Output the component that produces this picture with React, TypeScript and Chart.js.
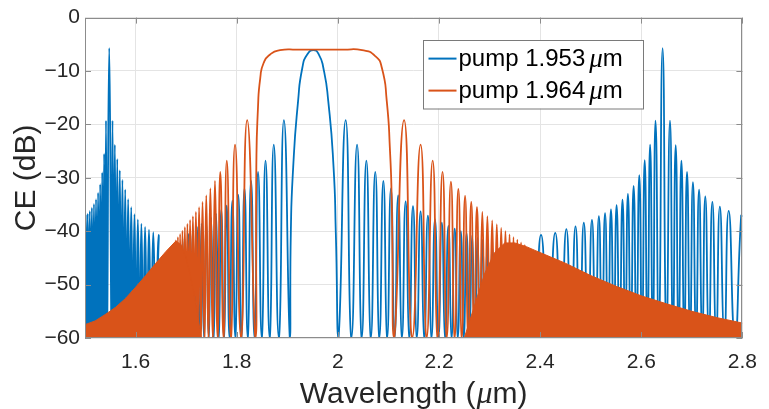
import React, { useEffect, useRef } from "react";
import { Chart, registerables } from "chart.js";
Chart.register(...registerables);

type Pt = [number, number];

const SERIES_NAMES = ["pump 1.953μm", "pump 1.964μm"];
const SERIES_COLORS = ["#0072BD", "#D95319"];
const X_TITLE = "Wavelength (μm)";
const Y_TITLE = "CE (dB)";
const X_TICKS = [1.6, 1.8, 2.0, 2.2, 2.4, 2.6, 2.8];
const X_TICK_LABELS = ["1.6", "1.8", "2", "2.2", "2.4", "2.6", "2.8"];
const Y_TICKS = [0, -10, -20, -30, -40, -50, -60];
const Y_TICK_LABELS = ["0", "\u221210", "\u221220", "\u221230", "\u221240", "\u221250", "\u221260"];

// pump 1.953 µm : idler lobes near 1.55 µm (peak, null, peak ...)
const blueIdler: Pt[] = [
  [1.5, -38], [1.5013, -37.2], [1.5034, -60], [1.5054, -36.7], [1.5075, -60], [1.5095, -36.2], [1.5116, -60],
  [1.5136, -35.6], [1.5157, -60], [1.5177, -34.9], [1.5198, -60], [1.5218, -34.0], [1.5239, -60], [1.5259, -32.8],
  [1.528, -60], [1.53, -31.2], [1.532, -60], [1.534, -29.0], [1.5359, -60], [1.5378, -25.5], [1.5397, -60],
  [1.5415, -19.3], [1.5435, -60], [1.5479, -5.7], [1.5525, -60], [1.5544, -19.3], [1.5567, -60], [1.559, -23.8],
  [1.5614, -60], [1.5638, -26.5], [1.5663, -60], [1.5688, -28.6], [1.5714, -60], [1.574, -30.4], [1.5767, -60],
  [1.5795, -32.2], [1.5824, -60], [1.5853, -34.0], [1.5883, -60], [1.5914, -35.5], [1.5946, -60], [1.5978, -36.8],
  [1.6011, -60], [1.6045, -37.8], [1.608, -60], [1.6115, -38.6], [1.6151, -60], [1.6188, -39.2], [1.6226, -60],
  [1.6265, -39.7], [1.6307, -60], [1.635, -40.2], [1.6401, -60], [1.6453, -40.7], [1.651, -60],
];

// pump 1.953 µm : central lobes around the pump
const blueCenter: Pt[] = [
  [1.671, -60], [1.6745, -45], [1.6781, -60], [1.6817, -43.5], [1.6854, -60], [1.6891, -42.3], [1.693, -60],
  [1.6968, -41.3], [1.7008, -60], [1.7048, -40.5], [1.709, -60], [1.7131, -39.8], [1.7174, -60], [1.7217, -39.2],
  [1.7262, -60], [1.7306, -38.6], [1.7352, -60], [1.7398, -38.0], [1.7446, -60], [1.7493, -37.4], [1.7543, -60],
  [1.7592, -36.7], [1.7644, -60], [1.7695, -36.0], [1.7749, -60], [1.7802, -35.2], [1.7858, -60], [1.7914, -34.3],
  [1.7973, -60], [1.8031, -33.2], [1.8093, -60], [1.8154, -32.0], [1.8219, -60], [1.8284, -30.6], [1.8353, -60],
  [1.8422, -28.9], [1.8496, -60], [1.857, -26.8], [1.8652, -60], [1.8733, -23.8], [1.8833, -60], [1.8933, -19.2],
  [1.905, -60], [1.907, -40.4], [1.9117, -28], [1.9214, -15.6], [1.9298, -9.4], [1.9395, -6.9], [1.952, -6.1],
  [1.9623, -6.9], [1.9713, -9.4], [1.981, -15.6], [1.9915, -28], [1.996, -40.4], [2.0013, -60],
  [2.0155, -19.2], [2.0268, -60], [2.038, -23.8], [2.0472, -60], [2.0564, -26.8], [2.0652, -60], [2.074, -28.9],
  [2.082, -60], [2.09, -30.6], [2.0975, -60], [2.105, -32.0], [2.1122, -60], [2.1193, -33.3], [2.1267, -60],
  [2.134, -34.4], [2.1413, -60], [2.1486, -35.3], [2.1561, -60], [2.1636, -36.3], [2.1709, -60], [2.1781, -37.1],
  [2.1851, -60], [2.1921, -37.8], [2.1989, -60], [2.2056, -38.4], [2.2121, -60], [2.2186, -39.0], [2.2249, -60],
  [2.2311, -39.5], [2.2371, -60], [2.2431, -40.0], [2.2489, -60], [2.2546, -40.4], [2.2601, -60], [2.2656, -40.8],
  [2.2709, -60], [2.2761, -41.2], [2.2811, -60], [2.2861, -41.6], [2.291, -60], [2.2958, -42.0], [2.3005, -60],
  [2.3052, -42.5], [2.3098, -60], [2.3143, -43.5], [2.3187, -60], [2.3231, -44.5], [2.3274, -60], [2.3317, -46],
  [2.3358, -60], [2.34, -47.5], [2.344, -60], [2.348, -49], [2.352, -60], [2.356, -50.5], [2.361, -60],
  [2.367, -49], [2.373, -60], [2.38, -46], [2.39, -60],
];

// pump 1.953 µm : signal lobes near 2.64 µm
const blueSignal: Pt[] = [
  [2.4018, -40.7], [2.4159, -60], [2.4299, -40.3], [2.4409, -60], [2.4519, -39.6], [2.461, -60], [2.47, -39.1],
  [2.4782, -60], [2.4864, -38.4], [2.4945, -60], [2.5025, -37.9], [2.5094, -60], [2.5162, -37.2], [2.5223, -60],
  [2.5284, -36.6], [2.5343, -60], [2.5401, -35.9], [2.5457, -60], [2.5512, -35.1], [2.5571, -60], [2.5629, -34.1],
  [2.5683, -60], [2.5736, -33.0], [2.5793, -60], [2.5849, -31.5], [2.5905, -60], [2.5961, -29.5], [2.6015, -60],
  [2.6068, -26.7], [2.6122, -60], [2.6175, -23.8], [2.6229, -60], [2.6282, -19.3], [2.6347, -60], [2.6422, -5.7],
  [2.6497, -60], [2.6568, -19.3], [2.6625, -60], [2.6681, -23.9], [2.6738, -60], [2.6794, -26.8], [2.685, -60],
  [2.6905, -28.9], [2.6964, -60], [2.7022, -30.8], [2.7083, -60], [2.7143, -32.2], [2.7205, -60], [2.7266, -33.5],
  [2.7336, -60], [2.7406, -34.5], [2.748, -60], [2.7554, -35.4], [2.7642, -60], [2.7729, -36.2], [2.7852, -60],
  [2.7975, -37.1], [2.8, -37.3],
];

// pump 1.964 µm : resolved lobes and flat-top main lobe
const orangeLobes: Pt[] = [
  [1.6774, -60], [1.6795, -41.7], [1.6816, -60], [1.6837, -41.1], [1.6859, -60], [1.6881, -40.5], [1.6904, -60],
  [1.6927, -39.9], [1.6951, -60], [1.6975, -39.2], [1.70, -60], [1.7025, -38.6], [1.7052, -60], [1.7078, -37.9],
  [1.7106, -60], [1.7134, -37.2], [1.7164, -60], [1.7193, -36.4], [1.7225, -60], [1.7256, -35.5], [1.729, -60],
  [1.7324, -34.5], [1.7361, -60], [1.7398, -33.3], [1.7439, -60], [1.7479, -32.0], [1.7525, -60], [1.757, -30.6],
  [1.7623, -60], [1.7675, -28.9], [1.774, -60], [1.7804, -26.8], [1.7886, -60], [1.7967, -23.8], [1.8087, -60],
  [1.8207, -19.2], [1.837, -60],
  [1.8388, -28], [1.8421, -16.8], [1.8466, -11.3], [1.8532, -8.5], [1.866, -6.9], [1.8856, -6.1], [1.92, -6.0],
  [1.964, -6.0], [2.01, -6.0], [2.048, -6.1], [2.0739, -7.2], [2.087, -9.4], [2.0967, -15.6], [2.1031, -24.9],
  [2.1065, -34.2], [2.1115, -60],
  [2.131, -19.2], [2.147, -60], [2.1636, -23.8], [2.1755, -60], [2.1875, -26.8], [2.1972, -60], [2.207, -28.9],
  [2.2153, -60], [2.2236, -30.7], [2.231, -60], [2.2383, -32.1], [2.245, -60], [2.2516, -33.4], [2.2577, -60],
  [2.2638, -34.5], [2.2695, -60], [2.2751, -35.5], [2.2804, -60], [2.2857, -36.4], [2.2907, -60], [2.2957, -37.2],
  [2.3005, -60], [2.3052, -38.0], [2.3098, -60], [2.3143, -38.7], [2.3187, -60], [2.323, -39.4], [2.3272, -60],
  [2.3314, -40.0], [2.3355, -60], [2.3395, -40.6], [2.3434, -60], [2.3473, -41.1], [2.3511, -60], [2.3549, -41.6],
  [2.3586, -60], [2.3623, -42.1], [2.3659, -60], [2.3695, -42.6], [2.373, -60],
];

// pump 1.964 µm : unresolved dense oscillation, upper envelope (left and right wings)
const orangeWingLeft: Pt[] = [
  [1.5, -57.5], [1.52, -56.8], [1.54, -55.6], [1.56, -54.3], [1.58, -52.6], [1.6, -50.5], [1.62, -48.3],
  [1.64, -46], [1.66, -43.8], [1.68, -41.8], [1.69, -42.6], [1.70, -45], [1.71, -49], [1.72, -54], [1.73, -60],
];
const orangeWingRight: Pt[] = [
  [2.25, -60], [2.27, -54], [2.29, -48], [2.31, -44], [2.33, -42.2], [2.35, -42.2], [2.373, -42.9],
  [2.39, -43.6], [2.42, -44.8], [2.45, -46], [2.5, -48.3], [2.55, -50.3], [2.6, -52.1], [2.65, -53.6],
  [2.7, -55], [2.75, -56.2], [2.8, -57.2],
];

const FONT = "'Liberation Sans', Arial, Helvetica, sans-serif";
const MU_FONT = "'Liberation Serif', 'DejaVu Serif', serif";
const TEXT = "#262626";

const toXY = (a: Pt[]) => a.map(([x, y]) => ({ x, y }));

// draws "before μ after" with the μ in italic (TeX style)
function drawMu(ctx: CanvasRenderingContext2D, text: string, x: number, y: number, size: number, muSize: number, gapBefore: number, gapAfter: number) {
  const i = text.indexOf("μ");
  const before = text.slice(0, i);
  const after = text.slice(i + 1);
  ctx.font = `${size}px ${FONT}`;
  ctx.fillText(before, x, y);
  let cx = x + ctx.measureText(before).width + gapBefore;
  ctx.font = `italic ${muSize}px ${MU_FONT}`;
  ctx.fillText("μ", cx, y);
  cx += ctx.measureText("μ").width + gapAfter;
  ctx.font = `${size}px ${FONT}`;
  ctx.fillText(after, cx, y);
}

function muWidth(ctx: CanvasRenderingContext2D, text: string, size: number, muSize: number, gapBefore: number, gapAfter: number) {
  const i = text.indexOf("μ");
  ctx.font = `${size}px ${FONT}`;
  let w = ctx.measureText(text.slice(0, i)).width + ctx.measureText(text.slice(i + 1)).width;
  ctx.font = `italic ${muSize}px ${MU_FONT}`;
  w += ctx.measureText("μ").width + gapBefore + gapAfter;
  return w;
}

const framePlugin = {
  id: "matlabFrame",
  afterDatasetsDraw(chart: any) {
    const { ctx, chartArea: a, scales } = chart;
    ctx.save();
    ctx.strokeStyle = "#8c8c8c";
    ctx.lineWidth = 1;
    ctx.strokeRect(Math.round(a.left) + 0.5, Math.round(a.top) + 0.5, Math.round(a.right - a.left) - 1, Math.round(a.bottom - a.top) - 1);
    const L = 6;
    ctx.beginPath();
    for (const v of X_TICKS) {
      const x = Math.round(scales.x.getPixelForValue(v)) + 0.5;
      ctx.moveTo(x, a.bottom); ctx.lineTo(x, a.bottom - L);
      ctx.moveTo(x, a.top); ctx.lineTo(x, a.top + L);
    }
    for (const v of Y_TICKS) {
      const y = Math.round(scales.y.getPixelForValue(v)) + 0.5;
      ctx.moveTo(a.left, y); ctx.lineTo(a.left + L, y);
      ctx.moveTo(a.right, y); ctx.lineTo(a.right - L, y);
    }
    ctx.stroke();

    // legend box (inside axes, top right)
    const bx = a.left + 337.5, by = a.top + 22.5, bw = 220, bh = 68.5;
    ctx.fillStyle = "#ffffff";
    ctx.fillRect(bx, by, bw, bh);
    ctx.strokeStyle = "#7a7a7a";
    ctx.strokeRect(Math.round(bx) + 0.5, Math.round(by) + 0.5, bw, bh);
    ctx.textBaseline = "middle";
    ctx.textAlign = "left";
    SERIES_NAMES.forEach((name, i) => {
      const yy = by + 18.5 + i * 32;
      ctx.strokeStyle = SERIES_COLORS[i];
      ctx.lineWidth = 2;
      ctx.beginPath();
      ctx.moveTo(bx + 6, yy); ctx.lineTo(bx + 34, yy);
      ctx.stroke();
      ctx.fillStyle = "#000000";
      drawMu(ctx, name, bx + 36, yy + 1, 24, 27, 4, 0);
    });

    // x-axis title with italic μ
    ctx.fillStyle = TEXT;
    ctx.textBaseline = "alphabetic";
    const tw = muWidth(ctx, X_TITLE, 30, 32, 1, 0);
    const cx = (a.left + a.right) / 2;
    drawMu(ctx, X_TITLE, cx - tw / 2, 403, 30, 32, 1, 0);
    ctx.restore();
  },
};

export default function App() {
  const ref = useRef<HTMLCanvasElement>(null);
  useEffect(() => {
    const canvas = ref.current;
    if (!canvas) return;
    const chart = new Chart(canvas, {
      type: "line",
      data: {
        datasets: [
          {
            label: SERIES_NAMES[1] + " wing",
            data: toXY(orangeWingLeft),
            borderColor: SERIES_COLORS[1],
            backgroundColor: SERIES_COLORS[1],
            borderWidth: 1,
            fill: { value: -60 },
            tension: 0,
            order: 0,
          },
          {
            label: SERIES_NAMES[1] + " wing2",
            data: toXY(orangeWingRight),
            borderColor: SERIES_COLORS[1],
            backgroundColor: SERIES_COLORS[1],
            borderWidth: 1,
            fill: { value: -60 },
            tension: 0,
            order: 0,
          },
          {
            label: SERIES_NAMES[1],
            data: toXY(orangeLobes),
            borderColor: SERIES_COLORS[1],
            borderWidth: 1.8,
            fill: false,
            tension: 0.6,
            order: 0,
          },
          {
            label: SERIES_NAMES[0],
            data: toXY([...blueIdler, ...blueCenter, ...blueSignal]),
            borderColor: SERIES_COLORS[0],
            borderWidth: 1.8,
            fill: false,
            tension: 0.6,
            order: 1,
          },
        ],
      },
      options: {
        animation: false,
        responsive: false,
        devicePixelRatio: 1,
        layout: { padding: { top: 16, right: 16, left: 0, bottom: 0 } },
        plugins: { legend: { display: false }, tooltip: { enabled: false } },
        elements: { point: { radius: 0 } },
        datasets: { line: { clip: 0 } } as any,
        scales: {
          x: {
            type: "linear",
            min: 1.5,
            max: 2.8,
            afterBuildTicks: (s: any) => { s.ticks = X_TICKS.map((v) => ({ value: v })); },
            afterFit: (s: any) => { s.height = 71; },
            ticks: {
              callback: (v: any) => X_TICK_LABELS[X_TICKS.indexOf(Number(v))] ?? "",
              font: { family: FONT, size: 21 },
              color: TEXT,
              padding: 12,
              maxRotation: 0,
              autoSkip: false,
            },
            grid: { color: "#e4e4e4", drawTicks: false },
            border: { display: false },
            title: { display: false, text: X_TITLE },
          },
          y: {
            type: "linear",
            min: -60,
            max: 0,
            afterBuildTicks: (s: any) => { s.ticks = Y_TICKS.map((v) => ({ value: v })); },
            afterFit: (s: any) => { s.width = 85; },
            ticks: {
              callback: (v: any) => Y_TICK_LABELS[Y_TICKS.indexOf(Number(v))] ?? "",
              font: { family: FONT, size: 21 },
              color: TEXT,
              padding: 5,
              autoSkip: false,
            },
            grid: { color: "#e4e4e4", drawTicks: false },
            border: { display: false },
            title: { display: true, text: Y_TITLE, font: { family: FONT, size: 30 }, color: TEXT, padding: { top: 9, bottom: 0 } },
          },
        },
      },
      plugins: [framePlugin],
    } as any);
    return () => chart.destroy();
  }, []);
  return (
    <div style={{ position: "fixed", left: 0, top: 0, width: 769, height: 409, background: "#ffffff" }}>
      <canvas ref={ref} width={769} height={409} style={{ display: "block" }} />
    </div>
  );
}
